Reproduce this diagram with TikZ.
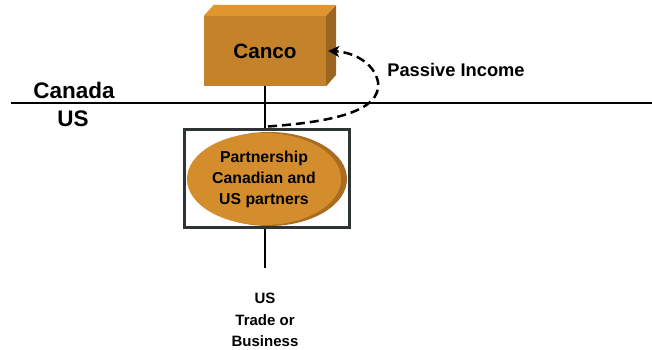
\documentclass[tikz,border=0pt]{standalone}
\usepackage{fontspec}
\setmainfont{Liberation Sans}
\usetikzlibrary{arrows.meta,calc,shapes.geometric}
\definecolor{boxfront}{HTML}{C4832A}
\definecolor{boxtop}{HTML}{E0962F}
\definecolor{boxside}{HTML}{9C6520}
\definecolor{diskface}{HTML}{D38D2C}
\definecolor{diskrim}{HTML}{A86D22}
\definecolor{frame}{HTML}{2E3333}
\begin{document}
\begin{tikzpicture}[x=1pt,y=-1pt,
  txt/.style={font=\bfseries, inner sep=0pt, align=center},
  link/.style={line width=2.3pt, black},
  flow/.style={line width=2.5pt, dash pattern=on 9pt off 5pt, -{Stealth[length=11pt,width=11pt,inset=3pt]}}]
\useasboundingbox (0,0) rectangle (652,350);

% border line between the two countries
\coordinate (wl) at (11,103);
\coordinate (wr) at (652,103);
\draw[link] (wl) -- (wr);
\node[txt, font=\bfseries\fontsize{22.5}{26}\selectfont] (ca) at (74,90) {Canada};
\node[txt, font=\bfseries\fontsize{22.5}{26}\selectfont] (us) at (73,119) {US};

% Canadian corporation drawn as a block
\node[fill=boxfront, minimum width=122pt, minimum height=70pt, inner sep=0pt,
      font=\bfseries\fontsize{20.7}{24}\selectfont] (canco) at (265,51) {Canco};
\fill[boxtop] (canco.north west) -- ++(10,-11) -- ++(122,0) -- (canco.north east) -- cycle;
\fill[boxside] (canco.north east) -- ++(10,-11) -- ++(0,70) -- (canco.south east) -- cycle;

% partnership frame with its disk
\node[draw=frame, line width=3pt, minimum width=165pt, minimum height=98pt, inner sep=0pt] (pship) at (266.5,178) {};
\fill[diskrim] (269,179) ellipse (78 and 47);
\node[ellipse, fill=diskface, minimum width=154pt, minimum height=92pt, inner sep=0pt,
      txt, font=\bfseries\fontsize{15.8}{21}\selectfont] (disk) at (264,179)
      {Partnership\\Canadian and\\US partners};

% ownership and business links
\draw[link] (canco.south) -- (canco.south |- pship.north);
\coordinate (tob) at (265,268);
\draw[link] (canco.south |- pship.south) -- (tob);
\node[txt, font=\bfseries\fontsize{15}{21.5}\selectfont] (trade) at (265,320) {US\\Trade or\\Business};

% passive income flowing back to Canco
\draw[flow] ($(canco.south |- pship.north)+(3,-1)$) .. controls (330,122) and (382,112) .. (378,82)
  .. controls (374,62) and (352,52) .. ($(canco.east)+(2,0)$);
\node[txt, font=\bfseries\fontsize{18.3}{21}\selectfont] (pi) at (456,70) {Passive Income};
\end{tikzpicture}
\end{document}
